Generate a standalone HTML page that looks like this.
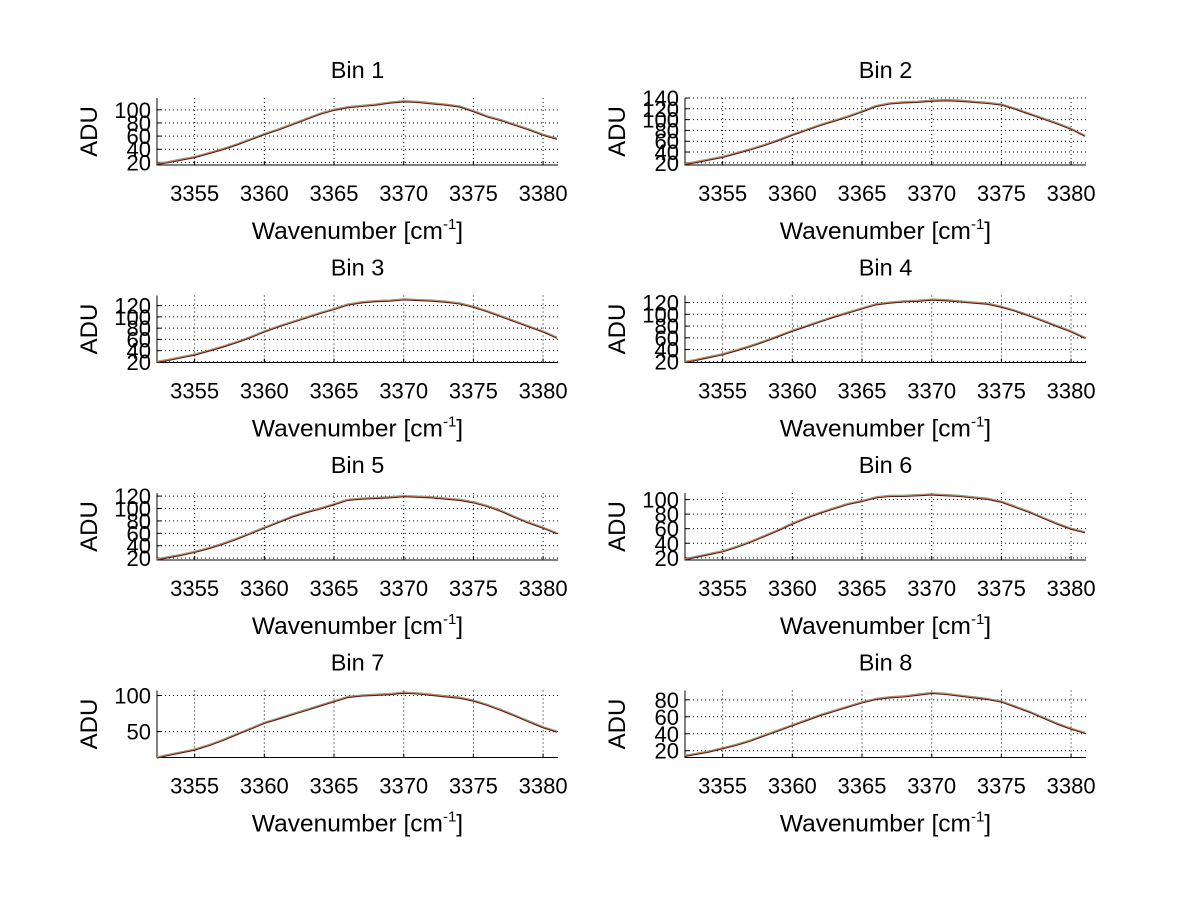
<!DOCTYPE html>
<html><head><meta charset="utf-8"><style>
html,body{margin:0;padding:0;background:#fff}
svg{display:block}
text{font-family:"Liberation Sans",sans-serif;fill:#000}
</style></head><body>
<svg id="fig" width="1200" height="901" viewBox="0 0 1200 901"></svg>
<script>
const wavenumbers = [3352.3,3353,3354,3355,3356,3357,3358,3359,3360,3361,3362,3363,3364,3365,3366,3367,3368,3369,3370,3371,3372,3373,3374,3375,3376,3377,3378,3379,3380,3381];
const bin1 = [18,20,24,28,34,40,47,55,63,70,78,86,94,100,104,106,108,111,113,112,110,108,105,98,90,84,77,70,62,56];
const bin2 = [18,21,26,31,38,45,53,62,72,81,90,98,106,115,125,130,132,133,135,136,135,133,131,128,120,111,102,93,83,70];
const bin3 = [20,23,28,33,40,47,55,64,74,83,91,99,107,114,122,126,128,129,131,130,129,127,124,118,110,101,92,83,74,63];
const bin4 = [19,22,27,32,39,46,54,63,72,80,88,96,103,110,117,120,122,123,125,124,122,120,118,113,106,98,89,80,71,60];
const bin5 = [18,21,25,30,36,43,51,60,69,78,87,94,100,107,114,116,117,118,120,119,118,116,114,110,104,96,86,77,69,60];
const bin6 = [18,21,25,29,35,42,50,58,67,75,82,88,94,98,103,105,105,106,107,106,105,103,101,97,90,83,75,67,60,55];
const bin7 = [14,17,21,25,31,38,46,54,62,68,74,80,86,92,98,100,101,102,104,103,101,99,97,93,87,80,72,64,56,50];
const bin8 = [14,16,19,23,27,32,38,44,50,56,62,67,72,77,81,83,84,86,88,87,85,83,81,78,72,66,59,52,46,41];
const binTitles = ["Bin 1","Bin 2","Bin 3","Bin 4","Bin 5","Bin 6","Bin 7","Bin 8"];
const xTicks = [3355,3360,3365,3370,3375,3380];
const yTicks1 = [20,40,60,80,100];
const yTicks2 = [20,40,60,80,100,120,140];
const yTicks3 = [20,40,60,80,100,120];
const yTicks4 = [20,40,60,80,100,120];
const yTicks5 = [20,40,60,80,100,120];
const yTicks6 = [20,40,60,80,100];
const yTicks7 = [50,100];
const yTicks8 = [20,40,60,80];
const yRanges = [[16,118],[16,140],[19,138],[18,132],[17,125],[17,109],[14,107],[12,91]];
const xRange = [3352.3,3381.07];

const series = [bin1,bin2,bin3,bin4,bin5,bin6,bin7,bin8];
const yTickSets = [yTicks1,yTicks2,yTicks3,yTicks4,yTicks5,yTicks6,yTicks7,yTicks8];
const NS = "http://www.w3.org/2000/svg";
const svg = document.getElementById('fig');
function mk(tag, attrs, parent){const e=document.createElementNS(NS,tag);for(const k in attrs)e.setAttribute(k,attrs[k]);(parent||svg).appendChild(e);return e;}

for(let b=0;b<8;b++){
  const col=b%2,row=Math.floor(b/2);
  const L=col?685:157, R=col?1086:558, T=98+row*197.5, B=165+row*197.5;
  const g=mk('g',{});
  
  
  const xs=v=>L+(v-xRange[0])/(xRange[1]-xRange[0])*(R-L);
  const ys=v=>B-(v-yRanges[b][0])/(yRanges[b][1]-yRanges[b][0])*(B-T);
  xTicks.forEach(t=>{
    const l=mk('line',{x1:xs(t),x2:xs(t),y1:T,y2:B,stroke:'#000','stroke-width':1,'stroke-dasharray':'1,3'},g);
    
    
    mk('line',{x1:xs(t),x2:xs(t),y1:B,y2:B-4,stroke:'#000'},g);
    const tx=mk('text',{x:xs(t),y:B+36,'font-size':22,'text-anchor':'middle'},g);
    tx.textContent=t;
    
    
  });
  yTickSets[b].forEach(t=>{
    const y=ys(t);
    const l=mk('line',{x1:L,x2:R,y1:y,y2:y,stroke:'#000','stroke-width':1,'stroke-dasharray':'1,3'},g);
    
    
    mk('line',{x1:L,x2:L+4,y1:y,y2:y,stroke:'#000'},g);
    const tx=mk('text',{x:L-6,y:y+8,'font-size':22,'text-anchor':'end'},g);
    tx.textContent=t;
    
    
  });
  const ax=mk('path',{d:`M${L},${T}V${B}H${R}`,fill:'none',stroke:'#000','stroke-width':1},g);
  
  
  const cols=['#3aa0c8','#e8a020','#7a1010'];
  cols.forEach((c,ci)=>{
    const pts=wavenumbers.map((w,i)=>{const x=Math.min(xs(w),R);return x.toFixed(1)+','+(ys(series[b][i])+(ci-1)*0.6).toFixed(1);}).join(' ');
    const pl=mk('polyline',{points:pts,fill:'none',stroke:c,'stroke-width':1.1},g);
    
    
  });
  const ti=mk('text',{x:(L+R)/2,y:T-20,'font-size':23.5,'text-anchor':'middle'},g);
  ti.textContent=binTitles[b];
  
  
  const xl=mk('text',{x:(L+R)/2,y:B+74,'font-size':24.5,'text-anchor':'middle'},g);
  xl.innerHTML='Wavenumber [cm<tspan dy="-10" font-size="15">-1</tspan><tspan dy="10">]</tspan>';
  
  
  const yl=mk('text',{x:0,y:0,'font-size':24,'text-anchor':'middle',transform:`translate(${L-60},${(T+B)/2}) rotate(-90)`},g);
  yl.textContent='ADU';
  
  
}
</script>
</body></html>
